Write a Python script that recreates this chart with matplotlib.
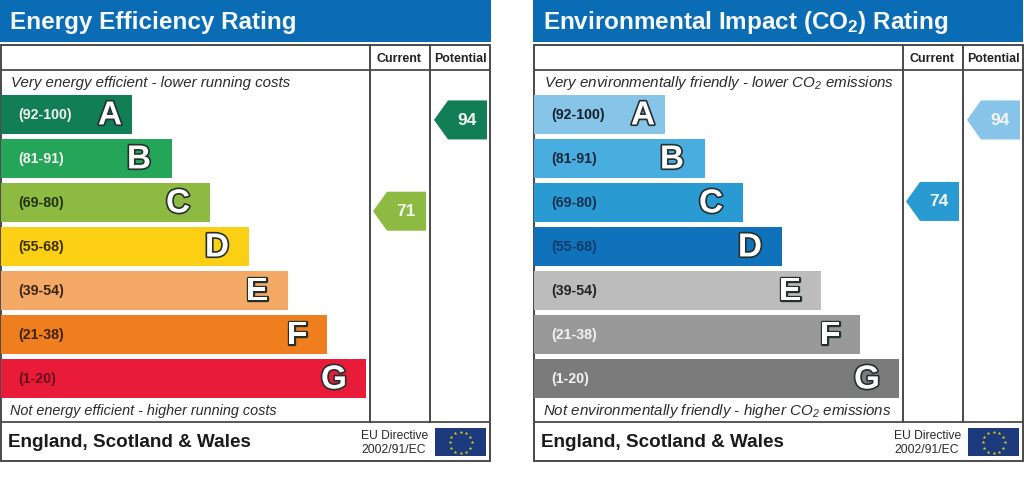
import matplotlib
matplotlib.use("Agg")
import numpy as np
import matplotlib.pyplot as plt
from matplotlib.patches import Polygon, Rectangle
import matplotlib.patheffects as pe

plt.rcParams['font.family'] = ['Liberation Sans', 'DejaVu Sans']
plt.rcParams['mathtext.default'] = 'regular'

# ---- data ----
band_letters = ['A', 'B', 'C', 'D', 'E', 'F', 'G']
band_ranges = ['(92-100)', '(81-91)', '(69-80)', '(55-68)', '(39-54)', '(21-38)', '(1-20)']
band_low = [92, 81, 69, 55, 39, 21, 1]
band_high = [100, 91, 80, 68, 54, 38, 20]
band_lengths = [131, 171, 209, 248, 287, 326, 365]

energy_title = 'Energy Efficiency Rating'
energy_top = 'Very energy efficient - lower running costs'
energy_bottom = 'Not energy efficient - higher running costs'
energy_colors = ['#127e55', '#25a557', '#8dbb41', '#fbcf14', '#f5a966', '#ef7f1e', '#e81c38']
energy_range_colors = ['#f2f2f2', '#f2f2f2', '#22300f', '#3a3000', '#3c2410', '#3c2006', '#6a0f1c']
energy_current = 71
energy_potential = 94

env_title = 'Environmental Impact (CO$_2$) Rating'
env_top = 'Very environmentally friendly - lower CO$_2$ emissions'
env_bottom = 'Not environmentally friendly - higher CO$_2$ emissions'
env_colors = ['#86c4e8', '#4aaddf', '#2a9ad3', '#0f72bb', '#bcbcbc', '#999999', '#7b7b7b']
env_range_colors = ['#16202a', '#14283c', '#123050', '#0c3c68', '#222222', '#f2f2f2', '#f2f2f2']
env_current = 74
env_potential = 94

footer_left = 'England, Scotland & Wales'
footer_right = ['EU Directive', '2002/91/EC']
col_heads = ['Current', 'Potential']

# ---- layout ----
fig = plt.figure(figsize=(10.24, 4.851), dpi=100, facecolor='white')
ax = fig.add_axes([0, 0, 1, 1])
ax.set_xlim(0, 1024)
ax.set_ylim(485, 0)
ax.axis('off')

LINE = '#4a4a4a'
ROW_TOP, ROW_STEP, ROW_H = 95, 44, 39
LETTER_INSET = [22, 33, 32, 32, 31, 30, 32]


def pointer(x_tip, score, color):
    i = next(k for k in range(7) if band_low[k] <= score <= band_high[k])
    frac = (band_high[i] - score) / (band_high[i] - band_low[i] + 1)
    yc = ROW_TOP + ROW_STEP * i + ROW_H * frac - 1
    h = ROW_H / 2
    ax.add_patch(Polygon([(x_tip, yc), (x_tip + 14, yc - h), (x_tip + 53, yc - h),
                          (x_tip + 53, yc + h), (x_tip + 14, yc + h)],
                         closed=True, fc=color, ec='none', zorder=3))
    ax.text(x_tip + 33, yc, str(score), color='#f4f4f4', fontsize=12.5, fontweight='bold',
            ha='center', va='center', zorder=4)


def panel(x0, title, top, bottom, colors, range_cols, current, potential, top_fs, bottom_fs):
    ax.add_patch(Rectangle((x0, 0), 491 if x0 == 0 else 490, 42, fc='#0a6cb4', ec='none'))
    ax.text(x0 + 10, 22.5, title, color='#f6f8fb', fontsize=17.5, fontweight='bold',
            ha='left', va='center')
    # frame
    ax.add_patch(Rectangle((x0 + 1, 45.5), 489, 415.5, fc='white', ec=LINE, lw=1.4, zorder=2.5))
    for yy in (70, 422):
        ax.plot([x0 + 1, x0 + 490], [yy, yy], color=LINE, lw=1.3, zorder=2.6)
    for xx in (370, 430):
        ax.plot([x0 + xx, x0 + xx], [45.5, 422], color=LINE, lw=1.4, zorder=2.6)
    ax.text(x0 + 399, 58.5, col_heads[0], fontsize=9, fontweight='bold', color='#222222',
            ha='center', va='center', zorder=3)
    ax.text(x0 + 460, 58.5, col_heads[1], fontsize=8.9, fontweight='bold', color='#222222',
            ha='center', va='center', zorder=3)
    ax.text(x0 + 11, 83, top, fontsize=top_fs, style='italic', color='#2a2a2a', va='center', zorder=3)
    ax.text(x0 + 10, 411, bottom, fontsize=bottom_fs, style='italic', color='#2a2a2a', va='center', zorder=3)

    # bars
    centres = [ROW_TOP + ROW_STEP * i + ROW_H / 2 for i in range(7)]
    ax.barh(centres, band_lengths, height=ROW_H, left=x0 + 1, color=colors, zorder=3)
    for i, c in enumerate(centres):
        ax.text(x0 + 18.5, c, band_ranges[i], fontsize=10.2, fontweight='bold',
                color=range_cols[i], va='center', zorder=4)
        ax.text(x0 + 1 + band_lengths[i] - LETTER_INSET[i], c + 1.5, band_letters[i], fontsize=24,
                fontweight='bold', color='white', ha='center', va='center', zorder=4,
                path_effects=[pe.withStroke(linewidth=2.4, foreground='#23302e')])

    # pointers
    pointer(x0 + 373, current, colors[next(k for k in range(7) if band_low[k] <= current <= band_high[k])])
    pointer(x0 + 434, potential, colors[next(k for k in range(7) if band_low[k] <= potential <= band_high[k])])

    # footer
    ax.text(x0 + 8, 442, footer_left, fontsize=13.6, fontweight='bold', color='#1a1a1a',
            va='center', zorder=3)
    ax.text(x0 + 361, 436, footer_right[0], fontsize=8.7, color='#2a2a2a', va='center', zorder=3)
    ax.text(x0 + 361, 450, footer_right[1], fontsize=8.7, color='#2a2a2a', va='center', zorder=3)
    ax.add_patch(Rectangle((x0 + 435, 428.5), 51, 28, fc='#1d3a7c', ec='none', zorder=3))
    ang = np.deg2rad(np.arange(0, 360, 30))
    ax.scatter(x0 + 460.5 + 11 * np.cos(ang), 442.5 + 10.5 * np.sin(ang), marker='*', s=7,
               color='#f4d90e', linewidths=0, zorder=4)


panel(0, energy_title, energy_top, energy_bottom, energy_colors, energy_range_colors,
      energy_current, energy_potential, 10.85, 10.4)
panel(533, env_title, env_top, env_bottom, env_colors, env_range_colors,
      env_current, env_potential, 10.9, 10.9)

fig.savefig('out.png', dpi=100, facecolor='white')
